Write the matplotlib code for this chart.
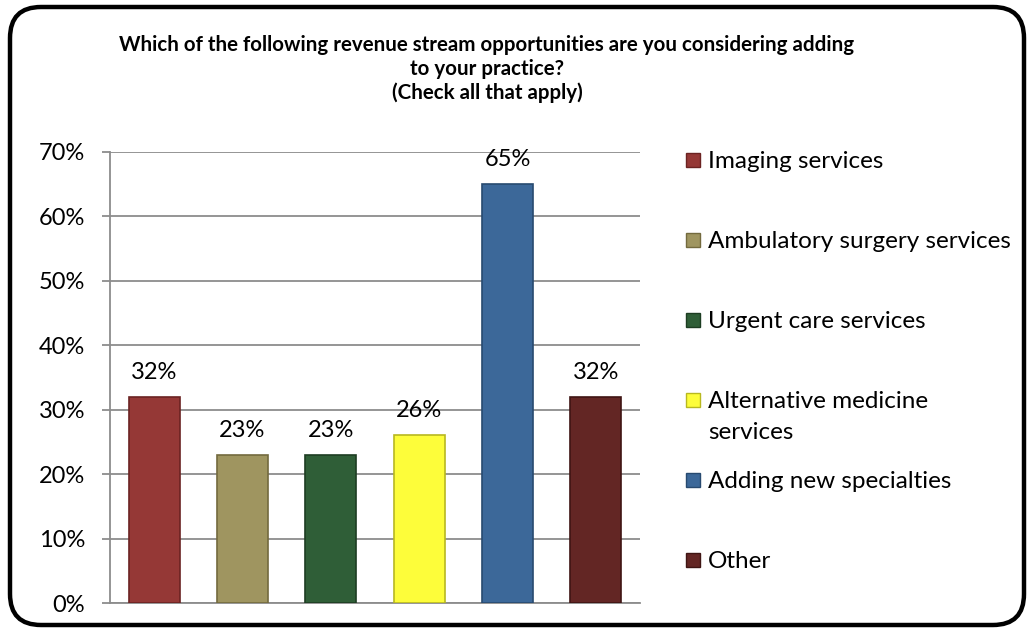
import matplotlib
matplotlib.use("Agg")
import matplotlib.pyplot as plt
from matplotlib.patches import FancyBboxPatch, Rectangle
from matplotlib.ticker import PercentFormatter

categories = ["Imaging services", "Ambulatory surgery services", "Urgent care services",
              "Alternative medicine\nservices", "Adding new specialties", "Other"]
values = [32, 23, 23, 26, 65, 32]
colors = ["#953836", "#9f9560", "#2f5e37", "#fdfd3a", "#3c6899", "#632624"]
edges = ["#6b2322", "#736a3e", "#1d3d22", "#b8b820", "#284a70", "#3f1514"]
yticks = [0, 10, 20, 30, 40, 50, 60, 70]

plt.rcParams['font.family'] = ['Lato', 'DejaVu Sans']

W, H = 1034, 633
fig = plt.figure(figsize=(W / 100, H / 100), dpi=100)

# rounded outer frame
frame = FancyBboxPatch((10 / W, 8 / H), 1014 / W, 618 / H,
                       boxstyle="round,pad=0,rounding_size=0.03",
                       transform=fig.transFigure, fill=False,
                       edgecolor="black", linewidth=3.2, mutation_aspect=W / H)
fig.patches.append(frame)

fig.text(487 / W, 1 - 35 / H,
         "Which of the following revenue stream opportunities are you considering adding\nto your practice?\n(Check all that apply)",
         ha="center", va="top", fontsize=14.8, fontweight="bold", linespacing=1.24)

ax = fig.add_axes([110 / W, 30 / H, 530 / W, 451 / H])
x = list(range(len(values)))
ax.bar(x, values, width=0.58, color=colors, edgecolor=edges, linewidth=1.2, zorder=3)
for xi, v in zip(x, values):
    ax.text(xi, v + 2.2, f"{v}%", ha="center", va="bottom", fontsize=17)

ax.set_xlim(-0.5, len(values) - 0.5)
ax.set_ylim(0, 70)
ax.set_yticks(yticks)
ax.yaxis.set_major_formatter(PercentFormatter(decimals=0))
ax.set_xticks([])
ax.grid(axis="y", color="#8c8c8c", linewidth=1.3, zorder=0)
for s in ["top", "right"]:
    ax.spines[s].set_visible(False)
for s in ["left", "bottom"]:
    ax.spines[s].set_color("#8c8c8c")
    ax.spines[s].set_linewidth(1.3)
ax.tick_params(axis="y", length=6, width=1.3, color="#8c8c8c", labelsize=17, pad=12)

# legend, drawn by hand so entries stay evenly spaced
for i, (lab, c, e) in enumerate(zip(categories, colors, edges)):
    yc = 1 - (160 + 80 * i) / H
    fig.patches.append(Rectangle((686 / W, yc - 7 / H), 14 / W, 14 / H,
                                 transform=fig.transFigure, facecolor=c,
                                 edgecolor=e, linewidth=1))
    fig.text(708 / W, yc + 9 / H, lab, ha="left", va="top", fontsize=17.5,
             linespacing=1.6)

fig.savefig("out.png", dpi=100)
